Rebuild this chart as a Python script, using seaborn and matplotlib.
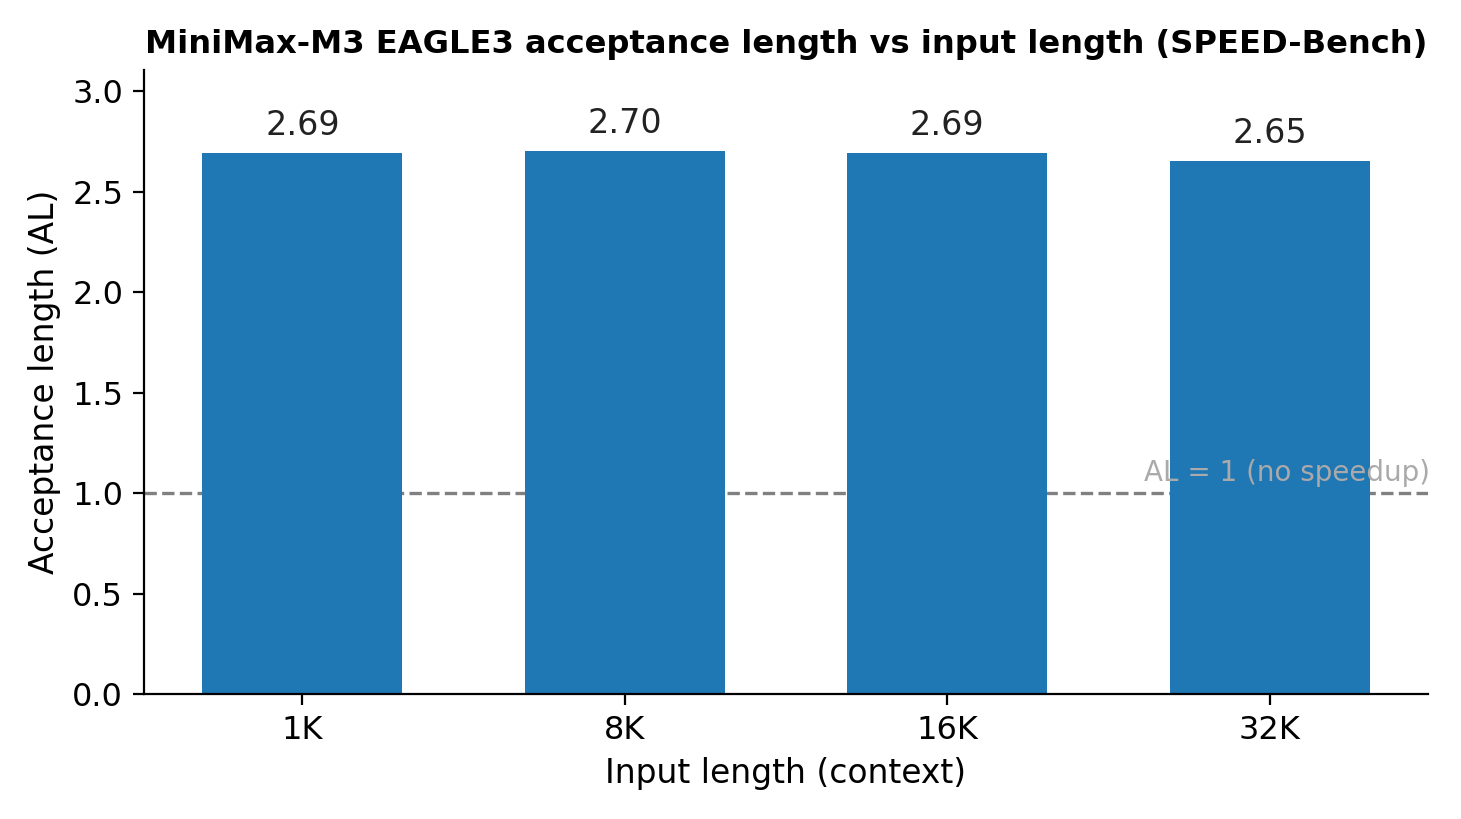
import matplotlib
matplotlib.use("Agg")
import matplotlib.pyplot as plt
import seaborn as sns
import pandas as pd

contexts = ["1K", "8K", "16K", "32K"]
acceptance = [2.69, 2.70, 2.69, 2.65]
baseline_al = 1.0

sns.set_style("white")
plt.rcParams["font.family"] = ["DejaVu Sans"]
plt.rcParams["text.color"] = "black"
plt.rcParams["axes.labelcolor"] = "black"
plt.rcParams["xtick.color"] = "black"
plt.rcParams["ytick.color"] = "black"

df = pd.DataFrame({"context": contexts, "al": acceptance})

fig = plt.figure(figsize=(7.305, 4.095), dpi=200)
ax = fig.add_axes([0.0986, 0.1526, 0.8788, 0.7619])

sns.barplot(data=df, x="context", y="al", color="#1f77b4", saturation=1,
            width=0.62, linewidth=0, ax=ax)

for i, v in enumerate(acceptance):
    ax.annotate(f"{v:.2f}", (i, v), xytext=(0, 4), textcoords="offset points",
                ha="center", va="bottom", fontsize=12, color="#222222")

ax.axhline(baseline_al, color="gray", linestyle="--", linewidth=1.2, zorder=0)
ax.set_xlim(-0.491, 3.491)
ax.set_ylim(0, max(acceptance) * 1.15)
ax.text(3.497, baseline_al + 0.03, "AL = 1 (no speedup)", ha="right", va="bottom",
        fontsize=10, color="#aaaaaa", zorder=5)

ax.set_title("MiniMax-M3 EAGLE3 acceptance length vs input length (SPEED-Bench)",
             fontsize=11.55, fontweight="bold")
ax.set_xlabel("Input length (context)", fontsize=11.85)
ax.set_ylabel("Acceptance length (AL)", fontsize=11.85)
ax.tick_params(axis="both", labelsize=11.5, length=4, left=True, bottom=True)
sns.despine(ax=ax)
for s in ["left", "bottom"]:
    ax.spines[s].set_color("black")
    ax.spines[s].set_linewidth(0.8)

fig.savefig("out.png", dpi=200)
